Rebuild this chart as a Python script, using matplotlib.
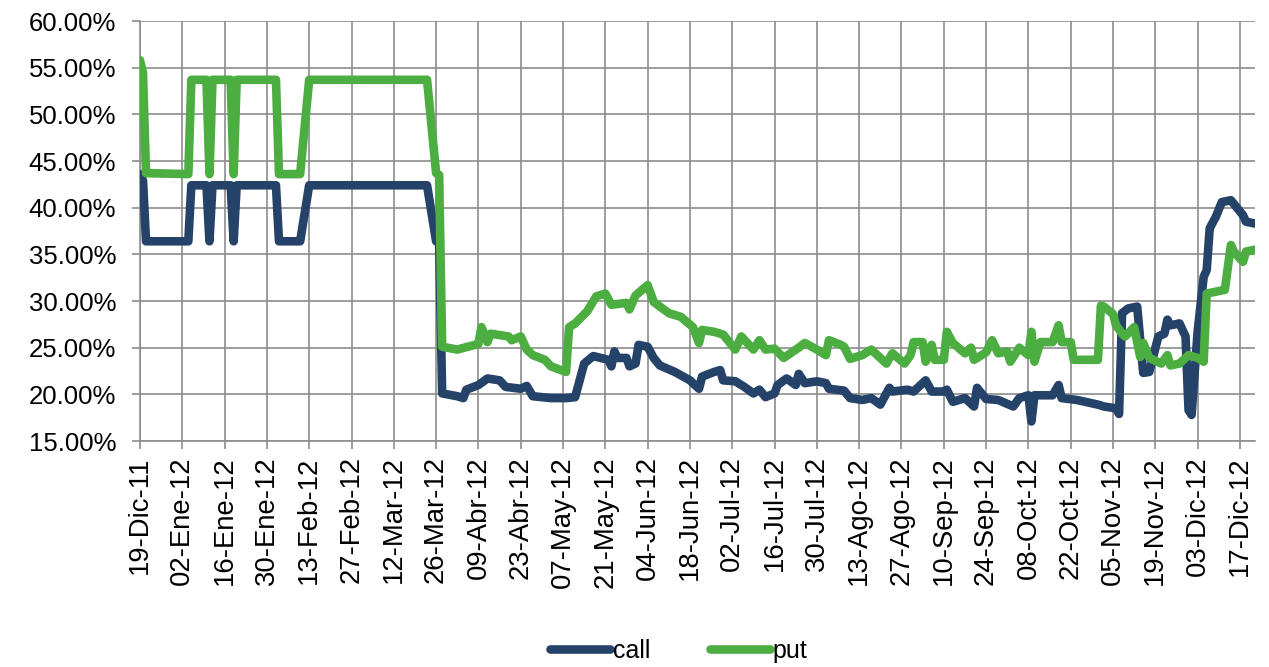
import matplotlib
matplotlib.use("Agg")
import matplotlib.pyplot as plt
import matplotlib.dates as mdates
from matplotlib.ticker import PercentFormatter, FuncFormatter
import pandas as pd

# ----------------------------
# Datos: volatilidad implicita call / put (%)
# ----------------------------
call_dates = [
    "2011-12-19", "2011-12-20", "2011-12-21", "2012-01-04", "2012-01-05", "2012-01-10",
    "2012-01-11", "2012-01-12", "2012-01-18", "2012-01-19", "2012-01-20", "2012-02-02",
    "2012-02-03", "2012-02-10", "2012-02-13", "2012-03-23", "2012-03-26", "2012-03-27",
    "2012-03-28", "2012-04-02", "2012-04-04", "2012-04-05", "2012-04-09", "2012-04-12",
    "2012-04-16", "2012-04-18", "2012-04-23", "2012-04-25", "2012-04-27", "2012-05-03",
    "2012-05-08", "2012-05-11", "2012-05-14", "2012-05-17", "2012-05-22", "2012-05-23",
    "2012-05-24", "2012-05-25", "2012-05-28", "2012-05-29", "2012-05-31", "2012-06-01",
    "2012-06-04", "2012-06-06", "2012-06-08", "2012-06-13", "2012-06-18", "2012-06-21",
    "2012-06-22", "2012-06-26", "2012-06-28", "2012-06-29", "2012-07-03", "2012-07-06",
    "2012-07-09", "2012-07-11", "2012-07-13", "2012-07-16", "2012-07-17", "2012-07-20",
    "2012-07-23", "2012-07-24", "2012-07-26", "2012-07-30", "2012-08-02", "2012-08-03",
    "2012-08-08", "2012-08-10", "2012-08-14", "2012-08-17", "2012-08-20", "2012-08-23",
    "2012-08-24", "2012-08-29", "2012-08-31", "2012-09-04", "2012-09-06", "2012-09-10",
    "2012-09-11", "2012-09-13", "2012-09-17", "2012-09-20", "2012-09-21", "2012-09-24",
    "2012-09-28", "2012-10-03", "2012-10-05", "2012-10-08", "2012-10-09", "2012-10-10",
    "2012-10-16", "2012-10-18", "2012-10-19", "2012-10-24", "2012-10-31", "2012-11-02",
    "2012-11-06", "2012-11-07", "2012-11-08", "2012-11-10", "2012-11-13", "2012-11-15",
    "2012-11-17", "2012-11-20", "2012-11-22", "2012-11-23", "2012-11-24", "2012-11-27",
    "2012-11-29", "2012-11-30", "2012-12-01", "2012-12-03", "2012-12-05", "2012-12-06",
    "2012-12-07", "2012-12-09", "2012-12-11", "2012-12-14", "2012-12-18", "2012-12-19",
    "2012-12-22",
]
call_vals = [
    43.6, 42.9, 36.4, 36.4, 42.4, 42.4,
    36.4, 42.4, 42.4, 36.4, 42.4, 42.4,
    36.4, 36.4, 42.4, 42.4, 36.4, 36.3,
    20.1, 19.8, 19.6, 20.5, 21.0, 21.7,
    21.5, 20.8, 20.6, 20.9, 19.8, 19.6,
    19.6, 19.7, 23.3, 24.1, 23.7, 23.0,
    24.6, 23.9, 23.9, 23.0, 23.3, 25.3,
    25.1, 23.9, 23.1, 22.4, 21.5, 20.6,
    21.9, 22.4, 22.6, 21.5, 21.4, 20.8,
    20.1, 20.5, 19.7, 20.1, 21.0, 21.7,
    21.0, 22.2, 21.2, 21.4, 21.2, 20.6,
    20.4, 19.6, 19.4, 19.6, 18.9, 20.7,
    20.3, 20.5, 20.3, 21.5, 20.3, 20.3,
    20.5, 19.2, 19.6, 18.7, 20.7, 19.5,
    19.4, 18.7, 19.6, 19.9, 17.1, 19.9,
    19.9, 21.0, 19.6, 19.4, 18.9, 18.7,
    18.5, 17.9, 28.7, 29.2, 29.4, 22.3,
    22.4, 26.2, 26.5, 28.0, 27.4, 27.6,
    26.2, 18.3, 17.8, 26.7, 32.6, 33.3,
    37.8, 39.0, 40.6, 40.8, 39.2, 38.5,
    38.3,
]

put_dates = [
    "2011-12-19", "2011-12-20", "2011-12-21", "2012-01-04", "2012-01-05", "2012-01-10",
    "2012-01-11", "2012-01-12", "2012-01-18", "2012-01-19", "2012-01-20", "2012-02-02",
    "2012-02-03", "2012-02-10", "2012-02-13", "2012-03-23", "2012-03-26", "2012-03-27",
    "2012-03-28", "2012-04-02", "2012-04-09", "2012-04-10", "2012-04-12", "2012-04-13",
    "2012-04-19", "2012-04-20", "2012-04-23", "2012-04-25", "2012-04-27", "2012-05-01",
    "2012-05-03", "2012-05-08", "2012-05-09", "2012-05-11", "2012-05-15", "2012-05-18",
    "2012-05-21", "2012-05-23", "2012-05-28", "2012-05-29", "2012-05-31", "2012-06-04",
    "2012-06-06", "2012-06-11", "2012-06-15", "2012-06-19", "2012-06-21", "2012-06-22",
    "2012-06-26", "2012-06-29", "2012-07-03", "2012-07-05", "2012-07-09", "2012-07-11",
    "2012-07-13", "2012-07-16", "2012-07-19", "2012-07-24", "2012-07-26", "2012-07-30",
    "2012-08-02", "2012-08-03", "2012-08-07", "2012-08-08", "2012-08-10", "2012-08-14",
    "2012-08-17", "2012-08-20", "2012-08-22", "2012-08-24", "2012-08-28", "2012-08-30",
    "2012-08-31", "2012-09-03", "2012-09-04", "2012-09-06", "2012-09-07", "2012-09-10",
    "2012-09-11", "2012-09-13", "2012-09-17", "2012-09-19", "2012-09-20", "2012-09-24",
    "2012-09-26", "2012-09-28", "2012-10-01", "2012-10-02", "2012-10-05", "2012-10-08",
    "2012-10-09", "2012-10-10", "2012-10-12", "2012-10-16", "2012-10-18", "2012-10-19",
    "2012-10-22", "2012-10-23", "2012-10-31", "2012-11-01", "2012-11-02", "2012-11-05",
    "2012-11-06", "2012-11-08", "2012-11-09", "2012-11-12", "2012-11-14", "2012-11-15",
    "2012-11-17", "2012-11-21", "2012-11-23", "2012-11-24", "2012-11-27", "2012-11-30",
    "2012-12-03", "2012-12-05", "2012-12-06", "2012-12-12", "2012-12-14", "2012-12-15",
    "2012-12-18", "2012-12-19", "2012-12-22",
]
put_vals = [
    55.8, 54.4, 43.7, 43.6, 53.7, 53.7,
    43.6, 53.7, 53.7, 43.6, 53.7, 53.7,
    43.6, 43.6, 53.7, 53.7, 43.7, 43.5,
    25.1, 24.8, 25.4, 27.2, 25.6, 26.5,
    26.2, 25.8, 26.2, 24.8, 24.2, 23.7,
    23.0, 22.4, 27.2, 27.6, 28.9, 30.5,
    30.8, 29.6, 29.8, 29.1, 30.6, 31.7,
    29.9, 28.7, 28.3, 27.2, 25.5, 26.9,
    26.7, 26.4, 24.8, 26.2, 24.8, 25.8,
    24.8, 24.9, 23.9, 25.0, 25.5, 24.8,
    24.2, 25.8, 25.3, 25.1, 23.8, 24.2,
    24.8, 23.9, 23.3, 24.4, 23.3, 24.2,
    25.6, 25.6, 23.5, 25.3, 23.7, 23.7,
    26.7, 25.5, 24.4, 25.0, 23.7, 24.5,
    25.8, 24.4, 24.6, 23.5, 25.0, 24.2,
    26.7, 23.5, 25.6, 25.6, 27.4, 25.6,
    25.6, 23.7, 23.7, 29.5, 29.4, 28.6,
    27.4, 26.5, 26.2, 27.2, 24.0, 25.5,
    23.9, 23.3, 24.2, 23.1, 23.3, 24.2,
    23.9, 23.5, 30.8, 31.2, 36.0, 35.3,
    34.2, 35.3, 35.5,
]

series_labels = ["call", "put"]
series_colors = ["#254269", "#4CAD41"]
meses = ["Ene", "Feb", "Mar", "Abr", "May", "Jun",
         "Jul", "Ago", "Sep", "Oct", "Nov", "Dic"]

# ----------------------------
# Grafico
# ----------------------------
plt.rcParams["font.family"] = ["Liberation Sans", "DejaVu Sans"]
plt.rcParams["font.size"] = 18

fig = plt.figure(figsize=(12.69, 6.67), dpi=100)
ax = fig.add_axes([0.1103, 0.3388, 0.8787, 0.6297])

grid_color = "#8C8C8C"
lw = 6.2

ax.plot(pd.to_datetime(call_dates), call_vals, color=series_colors[0], lw=lw,
        solid_joinstyle="round", solid_capstyle="round", label=series_labels[0], zorder=3)
ax.plot(pd.to_datetime(put_dates), put_vals, color=series_colors[1], lw=lw,
        solid_joinstyle="round", solid_capstyle="round", label=series_labels[1], zorder=4)

x0 = pd.Timestamp("2011-12-19")
x1 = pd.Timestamp("2012-12-22")
ax.set_xlim(x0, x1)
ax.set_ylim(15, 60)

ax.set_yticks(range(15, 61, 5))
ax.yaxis.set_major_formatter(PercentFormatter(xmax=100, decimals=2))

ax.set_xticks(pd.date_range(x0, x1, freq="14D"))

def fecha_es(x, pos=None):
    d = mdates.num2date(x)
    return f"{d.day:02d}-{meses[d.month - 1]}-{d.year % 100:02d}"

ax.xaxis.set_major_formatter(FuncFormatter(fecha_es))
plt.setp(ax.get_xticklabels(), rotation=90)

ax.grid(True, color=grid_color, lw=1.2, zorder=1)
ax.set_axisbelow(True)
for side in ["top", "right"]:
    ax.spines[side].set_visible(False)
for side in ["left", "bottom"]:
    ax.spines[side].set_color(grid_color)
    ax.spines[side].set_linewidth(1.2)
ax.tick_params(axis="both", direction="out", length=6, width=1.2, color=grid_color,
               labelcolor="black")
ax.tick_params(axis="y", labelsize=18.5, pad=11)
ax.tick_params(axis="x", labelsize=19.8, pad=5)

fig.legend(loc="center", bbox_to_anchor=(0.535, 0.024), ncol=2, frameon=False,
           handlelength=2.4, handletextpad=0.1, columnspacing=2.4, fontsize=18)

fig.savefig("out.png", dpi=100)
plt.close(fig)
